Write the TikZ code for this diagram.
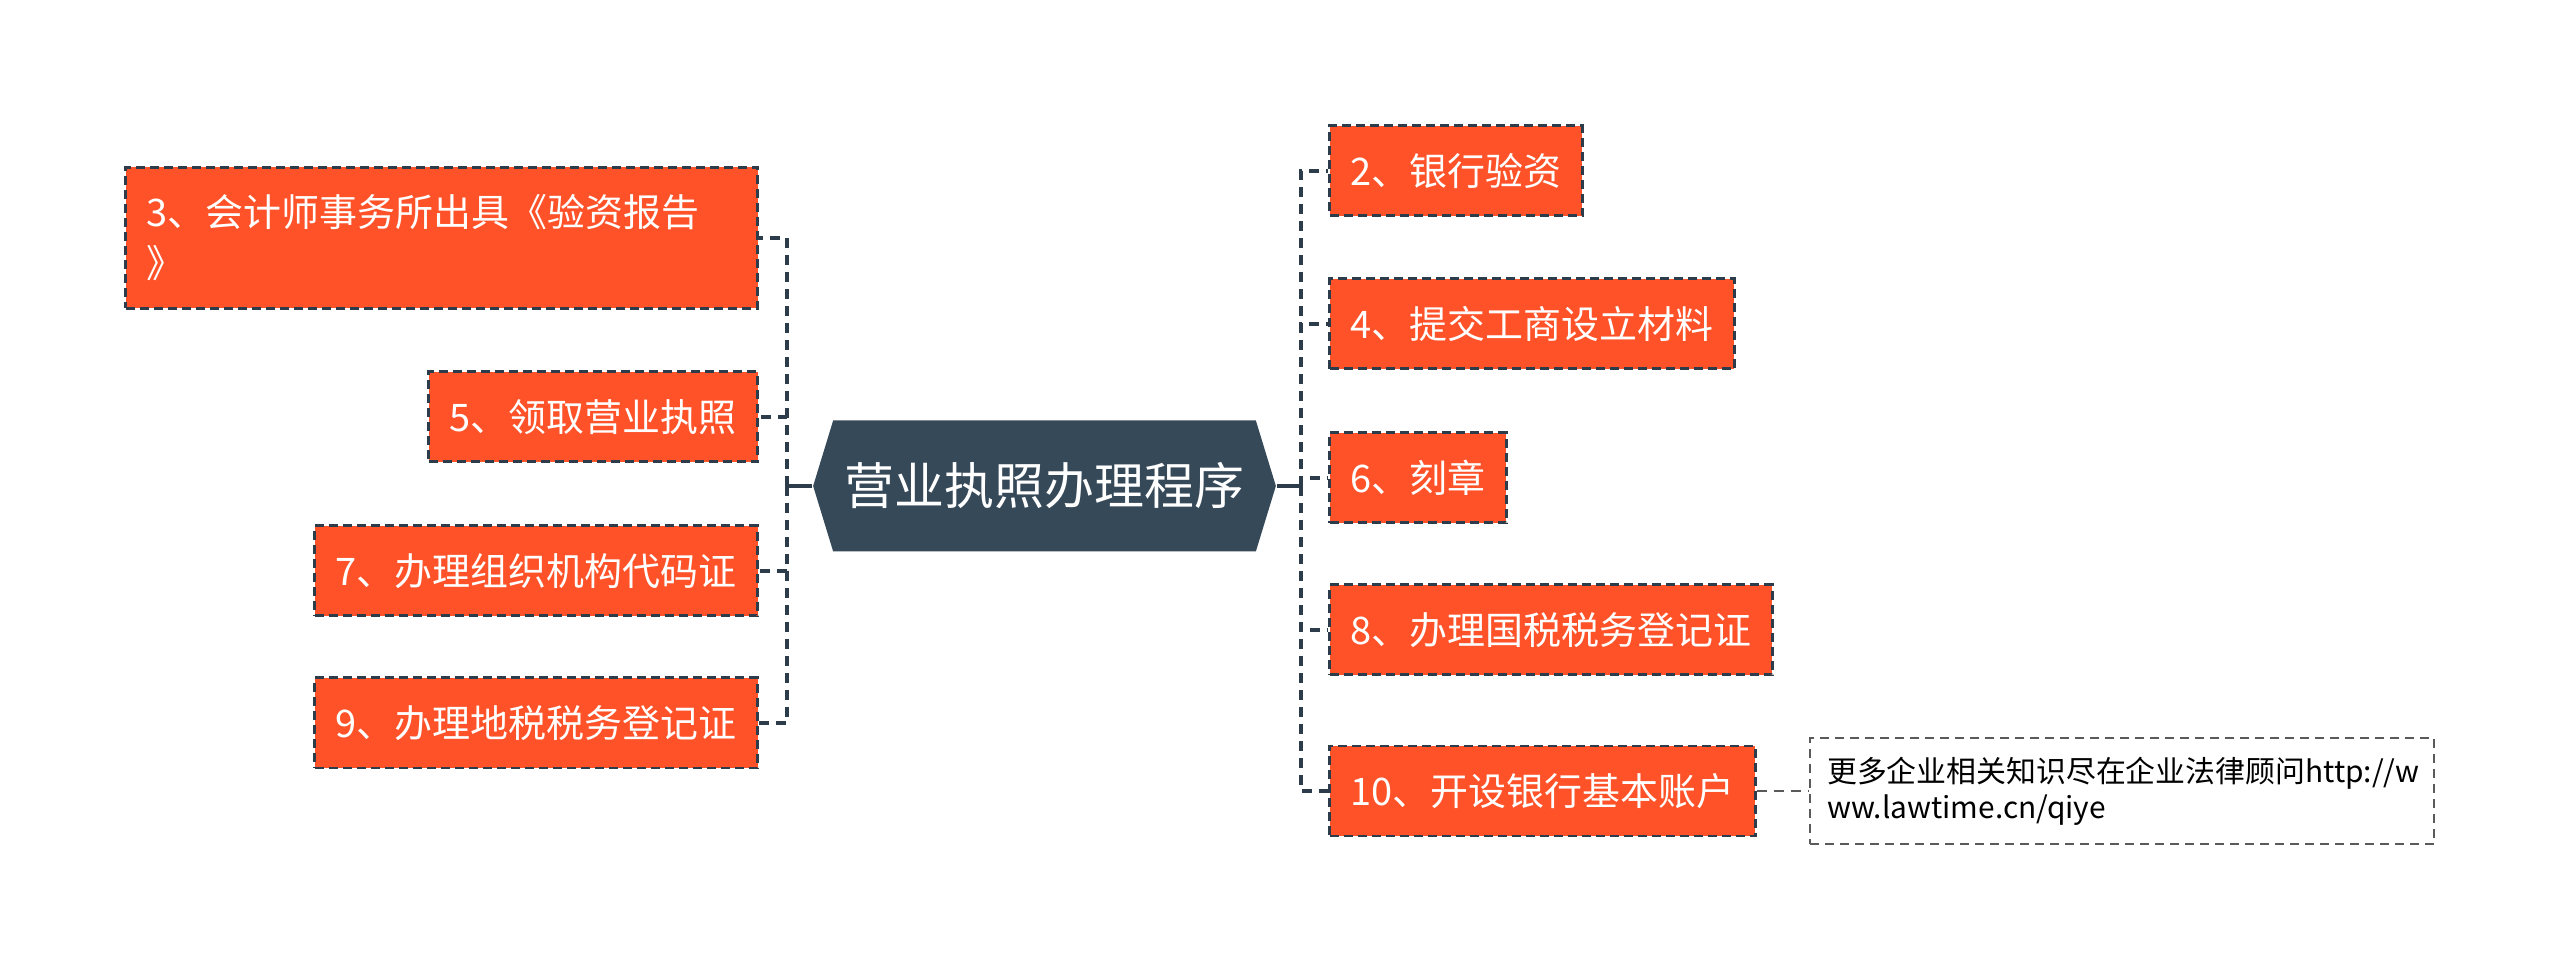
\documentclass[tikz,border=0pt]{standalone}
\usepackage{fontspec}
\setmainfont{Noto Sans CJK SC}
\usetikzlibrary{shapes.symbols}
\definecolor{slate}{RGB}{54,73,89}
\definecolor{tomato}{RGB}{255,82,41}
\definecolor{edge}{RGB}{45,60,75}
\definecolor{notegray}{RGB}{90,90,90}

\begin{document}
\begin{tikzpicture}[
  task/.style={draw=edge,line width=0.85pt,dash pattern=on 0.9mm off 0.5mm,
    fill=tomato,text=white,font=\fontsize{10.8}{14.5}\selectfont,
    inner xsep=0.21cm,inner ysep=0pt,minimum height=0.9cm},
  link/.style={draw=edge,line width=0.95pt,dash pattern=on 1mm off 0.7mm}]
\useasboundingbox (0,0) rectangle (25.6,-9.71);
% centre
\node[signal,signal to=east and west,signal pointer angle=146,fill=slate,
  minimum width=4.61cm,minimum height=1.31cm,text=white,
  font=\fontsize{14.2}{17}\selectfont] (root) at (10.445,-4.86) {营业执照办理程序};
% left side
\node[task,anchor=east,text width=5.9cm,align=left,minimum height=1.41cm]
  (n3) at (7.59,-2.38) {3、会计师事务所出具《验资报告\\》};
\node[task,anchor=east] (n5) at (7.59,-4.17) {5、领取营业执照};
\node[task,anchor=east] (n7) at (7.59,-5.71) {7、办理组织机构代码证};
\node[task,anchor=east] (n9) at (7.59,-7.23) {9、办理地税税务登记证};
% right side
\node[task,anchor=west] (n2) at (13.28,-1.71) {2、银行验资};
\node[task,anchor=west] (n4) at (13.28,-3.24) {4、提交工商设立材料};
\node[task,anchor=west] (n6) at (13.28,-4.78) {6、刻章};
\node[task,anchor=west] (n8) at (13.28,-6.30) {8、办理国税税务登记证};
\node[task,anchor=west] (n10) at (13.28,-7.91) {10、开设银行基本账户};
\node[draw=notegray,line width=0.7pt,dash pattern=on 0.9mm off 0.6mm,fill=white,
  text=black,font=\fontsize{8.5}{10.2}\selectfont,text width=5.9cm,align=left,
  minimum height=1.06cm,inner xsep=0.17cm,anchor=west]
  (note) at (18.09,-7.91) {更多企业相关知识尽在企业法律顾问http://w\\ww.lawtime.cn/qiye};
% connectors
\coordinate (lbus) at (7.87,-4.86);
\coordinate (rbus) at (13.01,-4.86);
\draw[edge,line width=0.95pt] (root.west) -- (lbus);
\draw[edge,line width=0.95pt] (root.east) -- (rbus);
\foreach \n in {n3,n5,n7,n9}
  \draw[link] (lbus) |- (\n.east);
\foreach \n in {n2,n4,n6,n8,n10}
  \draw[link] (rbus) |- (\n.west);
\draw[link,draw=notegray,line width=0.7pt] (n10.east) -- (note.west);
\end{tikzpicture}
\end{document}
